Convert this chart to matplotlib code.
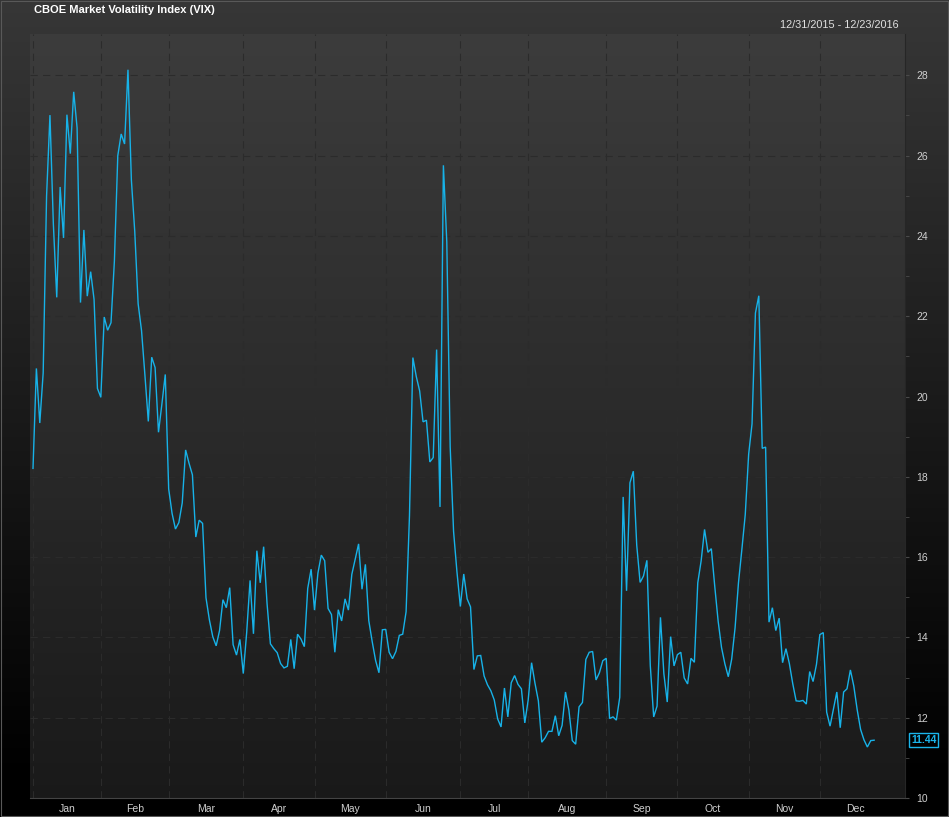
import numpy as np
import matplotlib
matplotlib.use('Agg')
import matplotlib.pyplot as plt
import matplotlib.transforms as mtransforms
from matplotlib.patches import Rectangle

plt.rcParams['font.family'] = ['Liberation Sans', 'DejaVu Sans']
plt.rcParams['font.size'] = 7.5

# daily closes (12/31/2015 .. 12/23/2016)
vix_dec15 = [18.21]
vix_jan = [20.70, 19.34, 20.59, 24.99, 27.01, 24.30, 22.47, 25.22, 23.95, 27.02,
           26.05, 27.59, 26.69, 22.34, 24.15, 22.50, 23.11, 22.42, 20.20]
vix_feb = [19.98, 21.98, 21.65, 21.84, 23.38, 26.00, 26.54, 26.29, 28.14, 25.40,
           24.11, 22.31, 21.64, 20.53, 19.38, 20.98, 20.72, 19.11, 19.81, 20.55]
vix_mar = [17.70, 17.09, 16.70, 16.86, 17.35, 18.67, 18.34, 18.05, 16.50, 16.92,
           16.84, 14.99, 14.44, 14.02, 13.79, 14.17, 14.94, 14.74, 15.24, 13.82,
           13.56, 13.95]
vix_apr = [13.10, 14.12, 15.42, 14.09, 16.16, 15.36, 16.26, 14.85, 13.84, 13.72,
           13.62, 13.35, 13.24, 13.28, 13.95, 13.22, 14.08, 13.96, 13.77, 15.22,
           15.70]
vix_may = [14.68, 15.60, 16.05, 15.91, 14.72, 14.57, 13.63, 14.69, 14.41, 14.96,
           14.68, 15.57, 15.95, 16.33, 15.20, 15.82, 14.42, 13.90, 13.43, 13.12,
           14.19]
vix_jun = [14.20, 13.63, 13.47, 13.65, 14.05, 14.08, 14.64, 17.03, 20.97, 20.50,
           20.14, 19.37, 19.41, 18.37, 18.48, 21.17, 17.25, 25.76, 23.85, 18.75,
           16.64, 15.63]
vix_jul = [14.77, 15.58, 14.96, 14.76, 13.20, 13.54, 13.55, 13.04, 12.82, 12.67,
           12.44, 11.97, 11.77, 12.74, 12.02, 12.87, 13.05, 12.83, 12.72, 11.87]
vix_aug = [12.44, 13.37, 12.86, 12.42, 11.39, 11.50, 11.66, 11.66, 12.05, 11.55,
           11.81, 12.64, 12.19, 11.43, 11.34, 12.27, 12.38, 13.45, 13.63, 13.65,
           12.94, 13.12, 13.42]
vix_sep = [13.48, 11.98, 12.02, 11.94, 12.51, 17.50, 15.16, 17.85, 18.14, 16.30,
           15.37, 15.53, 15.92, 13.30, 12.02, 12.29, 14.50, 13.10, 12.39, 14.02,
           13.29]
vix_oct = [13.57, 13.63, 12.99, 12.84, 13.48, 13.38, 15.36, 15.91, 16.69, 16.12,
           16.21, 15.28, 14.41, 13.75, 13.34, 13.02, 13.46, 14.24, 15.36, 16.19,
           17.06]
vix_nov = [18.56, 19.32, 22.08, 22.51, 18.71, 18.74, 14.38, 14.74, 14.17, 14.48,
           13.37, 13.72, 13.35, 12.85, 12.42, 12.41, 12.43, 12.34, 13.15, 12.90,
           13.33]
vix_dec = [14.07, 14.12, 12.14, 11.79, 12.22, 12.64, 11.75, 12.64, 12.72, 13.19,
           12.79, 12.20, 11.71, 11.45, 11.27, 11.43, 11.44]

months = ['Jan', 'Feb', 'Mar', 'Apr', 'May', 'Jun', 'Jul', 'Aug', 'Sep', 'Oct', 'Nov', 'Dec']
yticks = [10, 12, 14, 16, 18, 20, 22, 24, 26, 28]
title = 'CBOE Market Volatility Index (VIX)'
date_range = '12/31/2015 - 12/23/2016'

by_month = [vix_jan, vix_feb, vix_mar, vix_apr, vix_may, vix_jun,
            vix_jul, vix_aug, vix_sep, vix_oct, vix_nov, vix_dec]
counts = [len(m) for m in by_month]
counts[0] += len(vix_dec15)
vix = np.array(vix_dec15 + sum(by_month, []))
x = np.arange(len(vix))

starts = np.concatenate([[0], np.cumsum(counts)[:-1]])
ends = starts + np.array(counts)
ends[-1] = starts[-1] + 21   # december is not complete
centers = (starts + ends) / 2.0

W, H = 949, 817
fig = plt.figure(figsize=(W / 100, H / 100), dpi=100)

# background gradients
bg = fig.add_axes([0, 0, 1, 1], zorder=-1)
bg.set_xlim(0, W)
bg.set_ylim(H, 0)
bg.axis('off')
t = np.linspace(0, 1, 256)[:, None]
c0, c1 = np.array([0.215, 0.215, 0.215]), np.array([0.0, 0.0, 0.0])
outer = np.clip(c0 + (c1 - c0) * np.clip(t * 1.05, 0, 1), 0, 1)[:, :, None].transpose(0, 2, 1)
outer = np.repeat(outer, 2, axis=1)
bg.imshow(outer, extent=[0, W, H, 0], aspect='auto', interpolation='bilinear')
p0, p1 = np.array([0.235, 0.235, 0.235]), np.array([0.10, 0.10, 0.10])
inner = (p0 + (p1 - p0) * t)[:, None, :]
inner = np.repeat(inner, 2, axis=1)
bg.imshow(inner, extent=[30, 905, 798, 34], aspect='auto', interpolation='bilinear')
bg.set_xlim(0, W)
bg.set_ylim(H, 0)
bg.add_patch(Rectangle((0.5, 0.5), W - 1.5, H - 1.5, fill=False, ec='#595959', lw=0.8))

ax = fig.add_axes([30 / W, 1 - 798 / H, 875 / W, 764 / H])
ax.set_facecolor('none')
ax.plot(x, vix, color='#17b2e8', lw=1.0, zorder=3, solid_joinstyle='miter')
ax.set_xlim(-0.885, 257.1)
ax.set_ylim(10, 29.03)

ax.set_xticks(starts)
ax.set_xticklabels([])
ax.set_xticks(centers, minor=True)
ax.set_xticklabels(months, minor=True)
ax.tick_params(axis='x', which='both', length=0, pad=4, labelcolor='#cfcfcf')

ax.yaxis.tick_right()
ax.set_yticks(yticks)
ax.set_yticks(np.arange(11, 29, 2), minor=True)
ax.tick_params(axis='y', which='both', length=3, pad=5, color='#4a4a4a', labelcolor='#cfcfcf')

ax.grid(True, which='major', color='#2b2b2b', lw=0.75, linestyle=(0, (7, 5)))

for s in ['top', 'left']:
    ax.spines[s].set_visible(False)
ax.spines['right'].set_color('#262626')
ax.spines['bottom'].set_color('#444444')

trans = mtransforms.blended_transform_factory(ax.transAxes, ax.transData)
ax.text(1 + 6 / 875, vix[-1], '%.2f' % vix[-1], transform=trans, ha='left', va='center',
        color='#1ab4ea', fontweight='bold', fontsize=7.5, clip_on=False,
        bbox=dict(boxstyle='square,pad=0.2', fc='black', ec='#1ab4ea', lw=1))

fig.text(34 / W, 1 - 10 / H, title, color='white', fontweight='bold', fontsize=8, va='center')
fig.text(899 / W, 1 - 25 / H, date_range, color='#e0e0e0', fontsize=7.8, va='center', ha='right')

fig.savefig('out.png', dpi=100)
